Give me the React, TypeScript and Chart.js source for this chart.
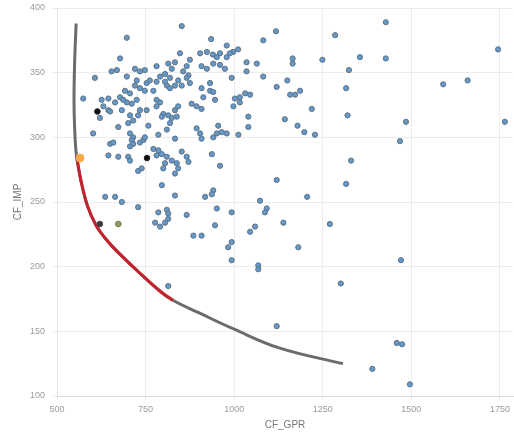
import React, { useEffect, useRef } from "react";
import { Chart, registerables } from "chart.js";

Chart.register(...registerables);

const xTickValues = [500, 750, 1000, 1250, 1500, 1750];
const yTickValues = [100, 150, 200, 250, 300, 350, 400];
const xTitle = "CF_GPR";
const yTitle = "CF_IMP";

// frontier curve (gray), red part is a sub-range of it
const frontierX = [554, 550, 548, 550, 555, 568, 586, 610, 636, 669, 726, 791, 827, 903, 997, 1129, 1307];
const frontierY = [388, 360, 329, 306, 286, 266, 247, 232, 222, 212, 197, 181, 174, 164, 152, 137, 125];
const redStart = 4;
const redEnd = 12;

const orangePoint: [number, number][] = [[565, 284]];
const blackPoints: [number, number][] = [[614, 320], [754, 284]];
const darkPoints: [number, number][] = [[621, 233]];
const olivePoints: [number, number][] = [[673, 233]];

const samplePoints: [number, number][] = [
  [852, 386], [697, 377], [935, 376], [979, 371], [1082, 375], [1118, 382], [678, 361], [847, 365],
  [904, 365], [923, 366], [940, 364], [960, 365], [979, 362], [997, 366], [1011, 368], [875, 360],
  [908, 355], [923, 353], [960, 356], [974, 353], [1035, 358], [1064, 357], [607, 346], [654, 351],
  [669, 352], [697, 347], [720, 353], [734, 351], [748, 352], [781, 355], [814, 357], [833, 358],
  [824, 353], [856, 351], [871, 348], [866, 355], [1035, 351], [1082, 347], [993, 346], [1120, 339],
  [574, 330], [626, 329], [645, 330], [631, 324], [645, 321], [678, 331], [697, 327], [706, 334],
  [692, 336], [720, 340], [725, 344], [734, 338], [753, 342], [762, 344], [772, 336], [781, 343],
  [791, 347], [805, 349], [810, 340], [819, 338], [833, 340], [842, 344], [852, 340], [908, 338],
  [932, 336], [946, 329], [913, 331], [1002, 330], [1016, 331], [1031, 334], [1045, 333], [998, 324],
  [1040, 316], [621, 315], [673, 308], [701, 311], [715, 313], [729, 317], [734, 321], [753, 321],
  [725, 329], [758, 309], [781, 329], [791, 327], [800, 318], [814, 317], [824, 315], [838, 316],
  [833, 321], [842, 324], [880, 326], [908, 322], [602, 303], [706, 303], [715, 300], [734, 296],
  [650, 295], [659, 296], [706, 293], [711, 298], [744, 298], [715, 295], [833, 299], [894, 307],
  [904, 303], [908, 299], [941, 300], [951, 303], [965, 304], [979, 303], [1012, 302], [955, 309],
  [937, 287], [960, 278], [1040, 308], [645, 286], [673, 285], [701, 285], [706, 282], [772, 291],
  [786, 290], [781, 286], [796, 287], [810, 285], [805, 280], [824, 282], [838, 280], [842, 276],
  [833, 272], [852, 289], [866, 285], [871, 281], [729, 274], [739, 276], [800, 276], [1120, 267],
  [796, 263], [833, 255], [636, 254], [664, 254], [683, 250], [729, 246], [786, 242], [810, 244],
  [814, 241], [866, 240], [918, 254], [941, 259], [937, 256], [951, 245], [993, 242], [1073, 251],
  [1092, 245], [1087, 242], [777, 234], [791, 231], [805, 234], [814, 237], [885, 224], [908, 224],
  [946, 232], [983, 215], [993, 219], [993, 205], [1045, 227], [1059, 231], [1068, 201], [1068, 198],
  [814, 185], [1120, 154], [1139, 234], [1181, 215], [1285, 379], [1428, 389], [1745, 368], [1165, 361],
  [1165, 357], [1249, 360], [1355, 362], [1428, 361], [1324, 352], [1150, 344], [1158, 333], [1172, 333],
  [1186, 336], [1316, 338], [1590, 341], [1659, 344], [1219, 322], [1143, 314], [1320, 317], [1485, 312],
  [1764, 312], [1179, 309], [1198, 304], [1228, 302], [1468, 297], [1330, 282], [1316, 264], [1206, 254],
  [1270, 233], [1471, 205], [1301, 187], [1459, 141], [1474, 140], [1390, 121], [1496, 109],
  [664, 327], [687, 329], [711, 326], [748, 336], [805, 343], [819, 346], [866, 346], [875, 342],
  [650, 320], [683, 321], [706, 317], [796, 316], [819, 311], [781, 324], [894, 324], [786, 302],
  [810, 306], [748, 300], [951, 362], [988, 365], [941, 357], [932, 342], [941, 335], [1016, 327],
];

const toXY = (arr: [number, number][]) => arr.map(([x, y]) => ({ x, y }));

export default function App() {
  const canvasRef = useRef<HTMLCanvasElement | null>(null);

  useEffect(() => {
    document.body.style.margin = "0";
    const canvas = canvasRef.current;
    if (!canvas) return;

    const frontier = frontierX.map((x, i) => ({ x, y: frontierY[i] }));
    const redPart = frontier.slice(redStart, redEnd + 1);

    const tickFont = { family: "'Liberation Sans', Arial, sans-serif", size: 9 };
    const titleFont = { family: "'Liberation Sans', Arial, sans-serif", size: 10 };

    const chart = new Chart(canvas, {
      type: "scatter",
      data: {
        datasets: [
          {
            label: "selected",
            data: toXY(orangePoint),
            pointRadius: 4,
            pointBackgroundColor: "#f5a94a",
            pointBorderColor: "#f0b060",
            pointBorderWidth: 1,
          },
          {
            label: "black",
            data: toXY(blackPoints),
            pointRadius: 2.8,
            pointBackgroundColor: "#111111",
            pointBorderColor: "#222222",
            pointBorderWidth: 1,
          },
          {
            label: "dark",
            data: toXY(darkPoints),
            pointRadius: 2.8,
            pointBackgroundColor: "#3a3a3a",
            pointBorderColor: "#444444",
            pointBorderWidth: 1,
          },
          {
            label: "olive",
            data: toXY(olivePoints),
            pointRadius: 2.8,
            pointBackgroundColor: "#8f9a55",
            pointBorderColor: "#6f7a50",
            pointBorderWidth: 1,
          },
          {
            label: "front-red",
            data: redPart,
            showLine: true,
            borderColor: "#c4222c",
            borderWidth: 3,
            pointRadius: 0,
            tension: 0.4,
            fill: false,
          },
          {
            label: "front",
            data: frontier,
            showLine: true,
            borderColor: "#6b6b6b",
            borderWidth: 3,
            pointRadius: 0,
            tension: 0.4,
            fill: false,
          },
          {
            label: "samples",
            data: toXY(samplePoints),
            pointRadius: 2.6,
            pointBackgroundColor: "#6499c9",
            pointBorderColor: "#5d7284",
            pointBorderWidth: 1,
          },
        ],
      },
      options: {
        responsive: false,
        animation: false,
        devicePixelRatio: 1,
        layout: { autoPadding: false, padding: { left: 0, right: 1, top: 8, bottom: 0 } },
        plugins: {
          legend: { display: false },
          tooltip: { enabled: false },
        },
        scales: {
          x: {
            type: "linear",
            min: 500,
            max: 1787,
            afterBuildTicks: (s: any) => {
              s.ticks = xTickValues.map((v) => ({ value: v }));
            },
            afterFit: (s: any) => {
              s.height = 36;
              s.paddingLeft = 0;
              s.paddingRight = 0;
            },
            grid: { color: "#ececec", lineWidth: 1, tickLength: 4 },
            border: { color: "#dcdcdc" },
            ticks: {
              font: tickFont,
              color: "#9a9a9a",
              padding: 4,
              maxRotation: 0,
              callback: (v: any) => String(v),
            },
            title: {
              display: true,
              text: xTitle,
              font: titleFont,
              color: "#777777",
              padding: { top: 0, bottom: 1 },
            },
          },
          y: {
            type: "linear",
            min: 100,
            max: 400,
            afterBuildTicks: (s: any) => {
              s.ticks = yTickValues.map((v) => ({ value: v }));
            },
            afterFit: (s: any) => {
              s.width = 57;
              s.paddingTop = 0;
              s.paddingBottom = 0;
            },
            grid: { color: "#ececec", lineWidth: 1, tickLength: 4 },
            border: { color: "#e4e4e4" },
            ticks: {
              font: tickFont,
              color: "#9a9a9a",
              padding: 8,
              callback: (v: any) => String(v),
            },
            title: {
              display: true,
              text: yTitle,
              font: titleFont,
              color: "#777777",
              padding: { top: 12, bottom: 0 },
            },
          },
        },
      },
    });

    return () => {
      chart.destroy();
    };
  }, []);

  return (
    <div style={{ width: 514, height: 432 }}>
      <canvas ref={canvasRef} width={514} height={432} />
    </div>
  );
}
